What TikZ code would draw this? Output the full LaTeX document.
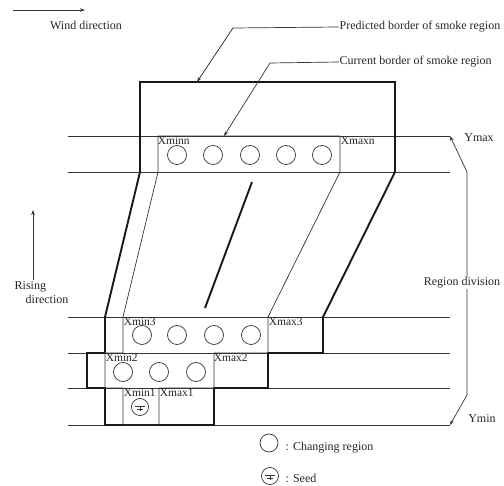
\documentclass[tikz,border=0pt]{standalone}
\usepackage{fontspec}
\setmainfont{Liberation Serif}
\usetikzlibrary{arrows.meta}
\begin{document}
\begin{tikzpicture}[x=1pt,y=-1pt,
  thinline/.style={line width=0.7pt, draw=black!80},
  boldline/.style={line width=1.9pt, draw=black!90, line join=miter},
  lbl/.style={font=\fontsize{12}{14}\selectfont, inner sep=0.5pt, text=black!85},
  xlab/.style={font=\fontsize{11.5}{12}\selectfont, anchor=north west, inner sep=0.6pt, text=black!85},
  cell/.style={circle, draw=black!80, line width=0.7pt, minimum size=19pt, inner sep=0pt},
  seed/.style={circle, draw=black!80, line width=0.7pt, minimum size=17pt, inner sep=0pt,
    path picture={
      \draw[line width=0.6pt,black!80] ([xshift=-5pt,yshift=1pt]path picture bounding box.center) -- ([xshift=5pt,yshift=1pt]path picture bounding box.center);
      \draw[line width=0.6pt,black!80] ([yshift=1pt]path picture bounding box.center) -- ([yshift=-4pt]path picture bounding box.center);
      \draw[line width=0.6pt,black!80] ([xshift=-3pt,yshift=-2pt]path picture bounding box.center) -- ([xshift=3pt,yshift=-2pt]path picture bounding box.center);
    }},
  tip/.style={-{Stealth[length=5pt,width=3.5pt]}}]
\useasboundingbox (0,0) rectangle (504,486);

% horizontal region division lines
\foreach \yy [count=\i] in {136,172,317,353,388,425}{
  \coordinate (hl\i) at (68,\yy);
  \coordinate (hr\i) at (450,\yy);
  \draw[thinline] (hl\i) -- (hr\i);
}

% predicted border (thick)
\draw[boldline] (140,82) -- (395,82) -- (395,172) -- (323,317) -- (323,353)
  -- (268,353) -- (268,388) -- (214,388) -- (214,425) -- (105,425) -- (105,388)
  -- (87,388) -- (87,353) -- (105,353) -- (105,317) -- (140,172) -- cycle;

% current border (thin)
\draw[thinline] (158,136) -- (340,136) -- (340,172) -- (268,317) -- (268,353)
  -- (214,353) -- (214,388) -- (159,388) -- (159,425) -- (123,425) -- (123,388)
  -- (105,388) -- (105,353) -- (123,353) -- (123,317) -- (158,172) -- cycle;

% middle thick stroke
\draw[line width=1.9pt, black!90] (252,182) -- (205,308);

% region labels
\node[xlab] (xminn) at (157,136) {Xminn};
\node[xlab] (xmaxn) at (340,136) {Xmaxn};
\node[xlab] (xmin3) at (123,317) {Xmin3};
\node[xlab] (xmax3) at (268,317) {Xmax3};
\node[xlab] (xmin2) at (105,353) {Xmin2};
\node[xlab] (xmax2) at (213,353) {Xmax2};
\node[xlab] (xmin1) at (123,388) {Xmin1};
\node[xlab] (xmax1) at (159,388) {Xmax1};

% changing region circles
\foreach \xx [count=\i] in {177,213,250,286,322}{ \node[cell] (cn\i) at (\xx,155) {}; }
\foreach \xx [count=\i] in {142,177,214,251}{ \node[cell] (c3\i) at (\xx,335) {}; }
\foreach \xx [count=\i] in {123,159,196}{ \node[cell] (c2\i) at (\xx,372) {}; }
\node[seed] (s1) at (140,407) {};

% wind direction
\coordinate (w0) at (13,10);
\coordinate (w1) at (85,10);
\draw[thinline, tip] (w0) -- (w1);
\node[lbl] (wind) at (86,25) {Wind direction};

% rising direction
\coordinate (r0) at (33,280);
\coordinate (r1) at (33,210);
\draw[thinline, tip] (r0) -- (r1);
\node[lbl, anchor=north west, align=left] (rise) at (14,281) {Rising\\\hspace*{11pt}direction};

% predicted border label
\node[lbl, anchor=west] (pred) at (339,27) {Predicted border of smoke region};
\coordinate (pk) at (233,28);
\coordinate (pt) at (197,82);
\draw[thinline, tip] (pred.west) -- (pk) -- (pt);

% current border label
\node[lbl, anchor=west] (curr) at (339,62) {Current border of smoke region};
\coordinate (ck) at (270,63);
\coordinate (ct) at (224,136);
\draw[thinline, tip] (curr.west) -- (ck) -- (ct);

% region division bracket
\node[lbl] (rdiv) at (462,283) {Region division};
\node[lbl] (ymax) at (479,138) {Ymax};
\node[lbl] (ymin) at (482,419) {Ymin};
\coordinate (b1) at (467,172);
\coordinate (b2) at (467,395);
\draw[thinline, tip] (rdiv.north -| b1) -- (b1) -- (hr1);
\draw[thinline, tip] (rdiv.south -| b2) -- (b2) -- (hr6);

% legend
\node[cell, minimum size=18pt] (lc) at (269,443) {};
\node[lbl, anchor=west] (lct) at (285,448) {: Changing region};
\node[seed] (ls) at (270,476) {};
\node[lbl, anchor=west] (lst) at (285,478) {: Seed};
\end{tikzpicture}
\end{document}
